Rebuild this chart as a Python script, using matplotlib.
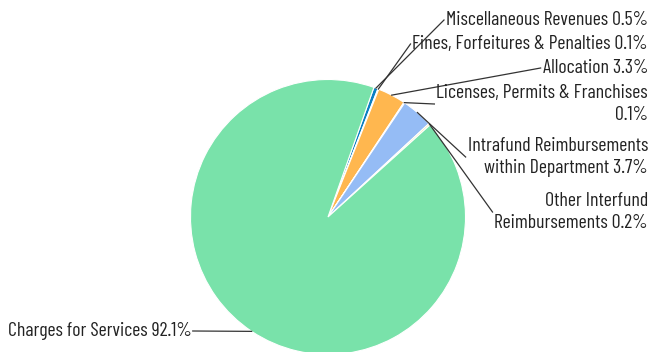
import numpy as np
import matplotlib
matplotlib.use("Agg")
import matplotlib.pyplot as plt

plt.rcParams['font.family'] = ['Barlow Condensed', 'DejaVu Sans']

# data (clockwise from the top)
labels = [
    "Miscellaneous Revenues 0.5%",
    "Fines, Forfeitures & Penalties 0.1%",
    "Allocation 3.3%",
    "Licenses, Permits & Franchises\n0.1%",
    "Intrafund Reimbursements\nwithin Department 3.7%",
    "Other Interfund\nReimbursements 0.2%",
    "Charges for Services 92.1%",
]
values = [0.5, 0.1, 3.3, 0.1, 3.7, 0.2, 92.1]
colors = ["#0b7fc2", "#9fe0e8", "#ffb74f", "#f06e6e", "#95bcf5", "#f3e68f", "#79e2aa"]

# label centre heights in pixels from the top
label_y = [20, 44, 68, 104, 157, 212, 331]

W, H = 653, 352
cx, cy, R = 328, 217, 137.5


def px(x, y):
    # pixel (from top-left) -> data coords, pie radius = 1
    return (x - cx) / R, (cy - y) / R


fig = plt.figure(figsize=(W / 100, H / 100), dpi=100)
ax = fig.add_axes([0, 0, 1, 1])

wedges, _ = ax.pie(values, colors=colors, startangle=70.5, counterclock=False,
                   radius=1, center=(0, 0), frame=True,
                   wedgeprops=dict(edgecolor='white', linewidth=0.8))
ax.set_xlim(px(0, 0)[0], px(W, 0)[0])
ax.set_ylim(px(0, H)[1], px(0, 0)[1])
ax.axis('off')

fig.canvas.draw()
renderer = fig.canvas.get_renderer()
inv = ax.transData.inverted()

# size the font so the first label is as wide as in the reference (~203 px)
probe = fig.text(0, 0, labels[0], fontsize=14)
fs = 14 * 203 / probe.get_window_extent(renderer).width
probe.remove()
# line spacing so two-line labels step ~24 px
p1 = fig.text(0, 0, "A", fontsize=fs, linespacing=1.0)
p2 = fig.text(0, 0, "A\nA", fontsize=fs, linespacing=1.0)
step = p2.get_window_extent(renderer).height - p1.get_window_extent(renderer).height
p1.remove()
p2.remove()
ls = 24 / step

for i, (w, lab) in enumerate(zip(wedges, labels)):
    mid = np.deg2rad((w.theta1 + w.theta2) / 2)
    ex, ey = np.cos(mid), np.sin(mid)
    if ex >= 0:
        tx, ty = px(648, label_y[i])
        t = ax.text(tx, ty, lab, ha='right', va='center', multialignment='right',
                    fontsize=fs, color='#222222', linespacing=ls)
        bb = t.get_window_extent(renderer)
        lx, ly = inv.transform((bb.x0 - 2, (bb.y0 + bb.y1) / 2))
    else:
        tx, ty = px(8, label_y[i])
        t = ax.text(tx, ty, lab, ha='left', va='center',
                    fontsize=fs, color='#222222')
        bb = t.get_window_extent(renderer)
        lx, ly = inv.transform((bb.x1 + 1, (bb.y0 + bb.y1) / 2))
    ax.plot([ex, lx], [ey, ly], color='#333333', linewidth=0.9)

fig.savefig("out.png", dpi=100)
